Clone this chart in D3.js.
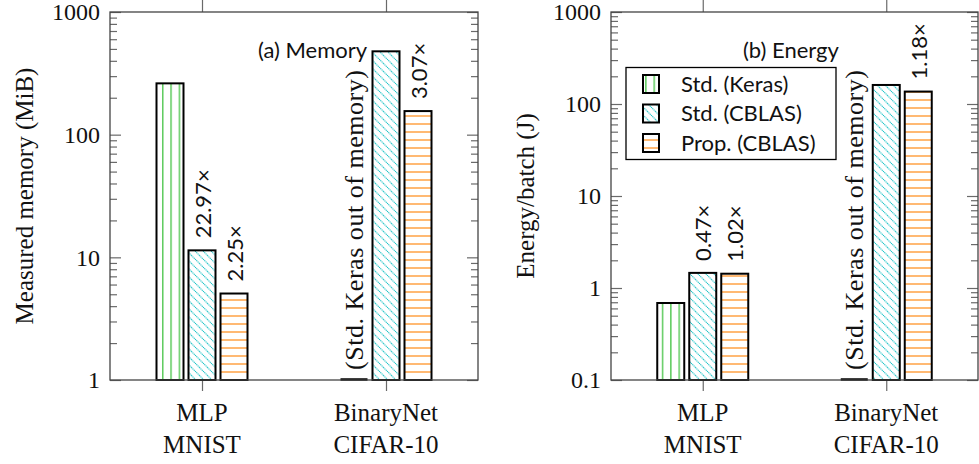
<!DOCTYPE html>
<html><head><meta charset="utf-8">
<script src="https://cdn.jsdelivr.net/npm/d3@7"></script>
<style>body{margin:0;background:#fff} svg{display:block}</style>
</head><body><svg id="chart" width="979" height="464"></svg>
<script>
// Benchmarks (two-line labels) and the three implementations compared
const categories = [["MLP", "MNIST"], ["BinaryNet", "CIFAR-10"]];
const seriesNames = ["Std. (Keras)", "Std. (CBLAS)", "Prop. (CBLAS)"];

// (a) Measured memory in MiB; null = Keras ran out of memory
const memoryKeras = [262, null];
const memoryStdCblas = [11.4, 478];
const memoryPropCblas = [5.07, 155.7];
const memoryRatios = [[null, "22.97×", "2.25×"], [null, null, "3.07×"]];
const memoryTicks = [1, 10, 100, 1000];

// (b) Energy per batch in J
const energyKeras = [0.687, null];
const energyStdCblas = [1.46, 161];
const energyPropCblas = [1.43, 136.5];
const energyRatios = [[null, "0.47×", "1.02×"], [null, null, "1.18×"]];
const energyTicks = [0.1, 1, 10, 100, 1000];

const oomNote = "(Std. Keras out of memory)";

const SERIF = "'Liberation Serif', 'Times New Roman', serif";
const SANS = "Lato, 'DejaVu Sans', sans-serif";
const svg = d3.select("#chart");
const plotTop = 12, plotBottom = 380;

// hatch patterns
const defs = svg.append("defs");
const pv = defs.append("pattern").attr("id", "pat-vert").attr("patternUnits", "userSpaceOnUse")
  .attr("width", 8.33).attr("height", 10);
pv.append("rect").attr("width", 8.33).attr("height", 10).attr("fill", "#fff");
pv.append("line").attr("x1", 4.5).attr("x2", 4.5).attr("y1", 0).attr("y2", 10)
  .attr("stroke", "#22b822").attr("stroke-width", 1.1);

const pd = defs.append("pattern").attr("id", "pat-diag").attr("patternUnits", "userSpaceOnUse")
  .attr("width", 8).attr("height", 8);
pd.append("rect").attr("width", 8).attr("height", 8).attr("fill", "#fff");
pd.append("path").attr("d", "M-2,-2 L10,10 M-2,6 L2,10 M6,-2 L10,2")
  .attr("stroke", "#10c0c4").attr("stroke-width", 1.1).attr("stroke-dasharray", "1.2,0.6");

const ph = defs.append("pattern").attr("id", "pat-horz").attr("patternUnits", "userSpaceOnUse")
  .attr("width", 10).attr("height", 8);
ph.append("rect").attr("width", 10).attr("height", 8).attr("fill", "#fff");
ph.append("line").attr("x1", 0).attr("x2", 10).attr("y1", 4).attr("y2", 4)
  .attr("stroke", "#ff8000").attr("stroke-width", 1.1);

const fills = ["url(#pat-vert)", "url(#pat-diag)", "url(#pat-horz)"];

const panels = [
  { x0: 110, x1: 478, series: [memoryKeras, memoryStdCblas, memoryPropCblas], ratios: memoryRatios,
    ticks: memoryTicks, yTitle: "Measured memory (MiB)", title: "(a) Memory", titleDx: 148, legend: false },
  { x0: 611, x1: 978, series: [energyKeras, energyStdCblas, energyPropCblas], ratios: energyRatios,
    ticks: energyTicks, yTitle: "Energy/batch (J)", title: "(b) Energy", titleDx: 132, legend: true }
];

function fmt(v) { return v < 1 ? String(v) : d3.format("d")(v); }

panels.forEach(p => {
  const g = svg.append("g");
  const y = d3.scaleLog().domain([p.ticks[0], p.ticks[p.ticks.length - 1]]).range([plotBottom, plotTop]);
  const x = d3.scalePoint().domain(d3.range(categories.length)).range([p.x0, p.x1]).padding(0.5);
  const xs = d3.scaleBand().domain(d3.range(seriesNames.length)).range([-45.5, 45.5]).paddingInner(5 / 32);

  const minor = [];
  p.ticks.slice(0, -1).forEach(t => { for (let k = 2; k <= 9; k++) minor.push(t * k); });

  const styleAxis = sel => {
    sel.select(".domain").remove();
    sel.selectAll(".tick line").attr("stroke", "#6a6a6a").attr("stroke-width", 1.2);
  };

  // y axes: labelled major ticks on the left, inward ticks on both sides
  g.append("g").attr("transform", `translate(${p.x0},0)`)
    .call(d3.axisLeft(y).tickValues(p.ticks).tickSize(-11).tickPadding(10).tickFormat(fmt))
    .call(styleAxis)
    .call(s => s.selectAll("text").attr("font-family", SERIF).attr("font-size", 24).attr("fill", "#111"));
  g.append("g").attr("transform", `translate(${p.x0},0)`)
    .call(d3.axisLeft(y).tickValues(minor).tickSize(-7).tickFormat("")).call(styleAxis);
  g.append("g").attr("transform", `translate(${p.x1},0)`)
    .call(d3.axisRight(y).tickValues(p.ticks).tickSize(-11).tickFormat("")).call(styleAxis);
  g.append("g").attr("transform", `translate(${p.x1},0)`)
    .call(d3.axisRight(y).tickValues(minor).tickSize(-7).tickFormat("")).call(styleAxis);

  // x axes: outward ticks at the benchmark positions
  g.append("g").attr("transform", `translate(0,${plotBottom})`)
    .call(d3.axisBottom(x).tickSize(11).tickFormat("")).call(styleAxis);
  g.append("g").attr("transform", `translate(0,${plotTop})`)
    .call(d3.axisTop(x).tickSize(12).tickFormat("")).call(styleAxis);

  // category labels
  categories.forEach((c, i) => {
    const t = g.append("text").attr("x", x(i)).attr("text-anchor", "middle")
      .attr("font-family", SERIF).attr("font-size", 25).attr("fill", "#111");
    t.append("tspan").attr("x", x(i)).attr("y", 421).text(c[0]);
    t.append("tspan").attr("x", x(i)).attr("y", 453).text(c[1]);
  });

  // bars
  p.series.forEach((vals, s) => {
    vals.forEach((v, i) => {
      const bx = x(i) + xs(s);
      if (v == null) {
        g.append("line").attr("x1", bx).attr("x2", bx + xs.bandwidth())
          .attr("y1", plotBottom - 0.5).attr("y2", plotBottom - 0.5)
          .attr("stroke", "#000").attr("stroke-width", 2.5);
        g.append("text")
          .attr("transform", `translate(${bx + xs.bandwidth() / 2},${plotBottom - 10}) rotate(-90)`)
          .attr("dominant-baseline", "central")
          .attr("textLength", 300).attr("lengthAdjust", "spacing")
          .attr("font-family", SERIF).attr("font-size", 26).attr("fill", "#111").text(oomNote);
        return;
      }
      g.append("rect").attr("x", bx).attr("y", y(v)).attr("width", xs.bandwidth())
        .attr("height", plotBottom - y(v)).attr("fill", fills[s])
        .attr("stroke", "#000").attr("stroke-width", 2);
      const r = p.ratios[i][s];
      if (r) {
        g.append("text")
          .attr("transform", `translate(${bx + xs.bandwidth() / 2},${y(v) - 12}) rotate(-90)`)
          .attr("dominant-baseline", "central")
          .attr("font-family", SANS).attr("font-size", 22).attr("fill", "#111").text(r);
      }
    });
  });

  // frame
  g.append("rect").attr("x", p.x0).attr("y", plotTop).attr("width", p.x1 - p.x0).attr("height", plotBottom - plotTop)
    .attr("fill", "none").attr("stroke", "#444").attr("stroke-width", 1.3);

  // panel title
  g.append("text").attr("x", p.x0 + p.titleDx).attr("y", 58)
    .attr("font-family", SANS).attr("font-size", 22).attr("fill", "#111").text(p.title);

  // y-axis title
  g.append("text")
    .attr("transform", `translate(${p.x0 - 86},${(plotTop + plotBottom) / 2}) rotate(-90)`)
    .attr("text-anchor", "middle").attr("dominant-baseline", "central")
    .attr("font-family", SERIF).attr("font-size", 25).attr("fill", "#111").text(p.yTitle);

  if (p.legend) {
    const lg = g.append("g");
    lg.append("rect").attr("x", 626).attr("y", 67.5).attr("width", 210).attr("height", 92)
      .attr("fill", "#fff").attr("stroke", "#000").attr("stroke-width", 1.3);
    seriesNames.forEach((n, s) => {
      const cy = 84 + s * 29.5;
      lg.append("rect").attr("x", 643).attr("y", cy - 9).attr("width", 16).attr("height", 18)
        .attr("fill", fills[s]).attr("stroke", "#000").attr("stroke-width", 2);
      lg.append("text").attr("x", 681).attr("y", cy).attr("dy", "0.35em")
        .attr("font-family", SANS).attr("font-size", 22).attr("fill", "#111").text(n);
    });
  }
});
</script>
</body></html>
